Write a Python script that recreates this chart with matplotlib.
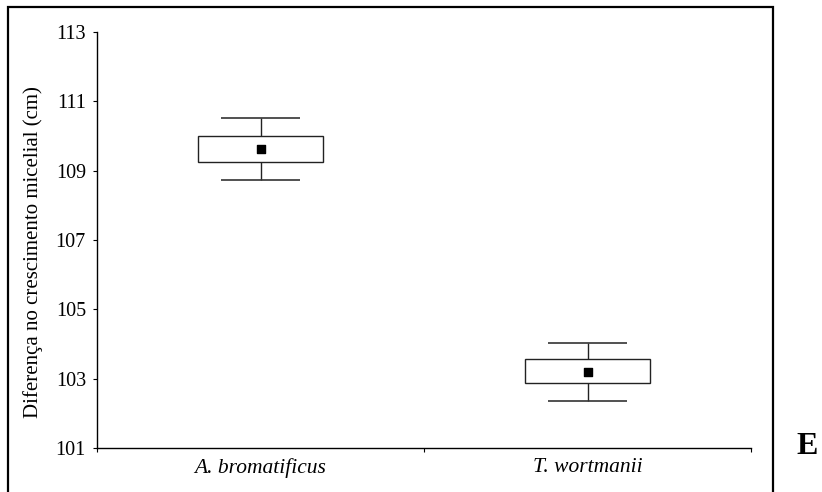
import matplotlib.pyplot as plt
from matplotlib.patches import Rectangle

# data
especies = ["A. bromatificus", "T. wortmanii"]
media = [109.62, 103.20]
caixa_inf = [109.24, 102.87]
caixa_sup = [110.00, 103.57]
bigode_inf = [108.72, 102.37]
bigode_sup = [110.51, 104.04]
yticks = [101, 103, 105, 107, 109, 111, 113]

plt.rcParams["font.family"] = ["Liberation Serif", "DejaVu Serif"]

fig = plt.figure(figsize=(8.22, 4.92), dpi=100)
ax = fig.add_axes([97 / 822, 1 - 448 / 492, (751 - 97) / 822, (448 - 32) / 492])

pos = [1, 2]
largura = 0.38
cap = 0.24

# boxes
altura = [s - i for s, i in zip(caixa_sup, caixa_inf)]
ax.bar(pos, altura, bottom=caixa_inf, width=largura, color="white",
       edgecolor="#222222", linewidth=1.0, zorder=2)
# whiskers
ax.vlines(pos, caixa_sup, bigode_sup, color="#222222", linewidth=1.0)
ax.vlines(pos, bigode_inf, caixa_inf, color="#222222", linewidth=1.0)
for p, lo, hi in zip(pos, bigode_inf, bigode_sup):
    ax.hlines([lo, hi], p - cap / 2, p + cap / 2, color="#333333", linewidth=1.2)
# means
ax.scatter(pos, media, marker="s", s=28, color="black", zorder=3)

ax.set_xlim(0.5, 2.5)
ax.set_ylim(101, 113)
ax.set_yticks(yticks)
ax.set_yticklabels([str(t) for t in yticks], fontsize=14.5)
ax.set_xticks(pos)
ax.set_xticklabels(especies, fontsize=15.5, style="italic")
ax.tick_params(axis="x", length=0, pad=7)
ax.set_xticks([0.5, 1.5, 2.5], minor=True)
ax.tick_params(axis="x", which="minor", length=3, width=0.8)
ax.tick_params(axis="y", length=3, width=0.8, pad=5)
for s in ["top", "right"]:
    ax.spines[s].set_visible(False)
for s in ["left", "bottom"]:
    ax.spines[s].set_linewidth(1.0)

fig.text(33 / 822, 1 - 252 / 492, "Diferença no crescimento micelial (cm)",
         rotation=90, ha="center", va="center", fontsize=15)
fig.text(807 / 822, 1 - 446 / 492, "E", ha="center", va="center",
         fontsize=23, fontweight="bold")

# outer frame
fig.patches.append(Rectangle((8 / 822, -0.05), (773 - 8) / 822, 1.05 - 7 / 492,
                             transform=fig.transFigure, fill=False,
                             edgecolor="black", linewidth=1.6))

fig.savefig("out.png", dpi=100)
